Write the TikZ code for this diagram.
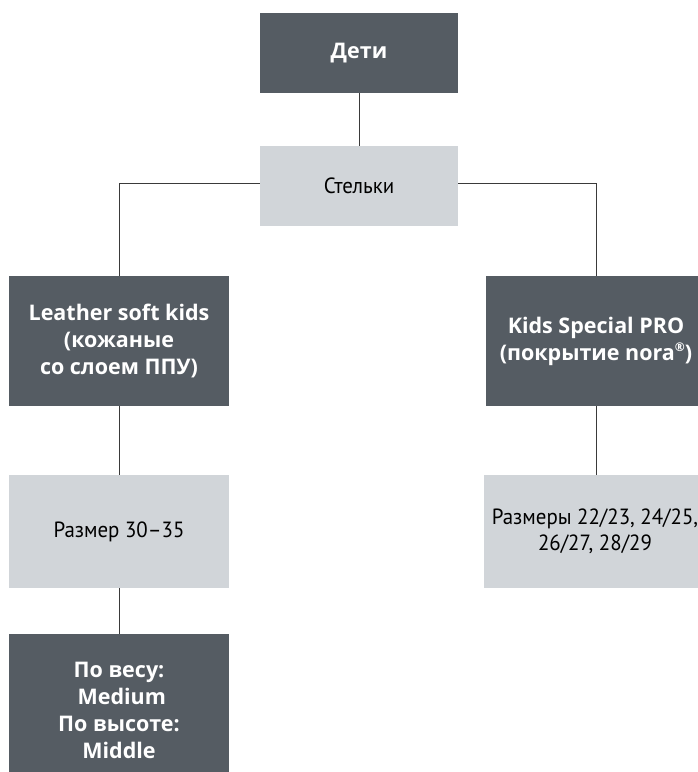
\documentclass[tikz,border=0pt]{standalone}
\usepackage{fontspec}
\newfontfamily\bfont{Open Sans}
\newfontfamily\rfont[FakeStretch=0.95]{PT Sans}
\definecolor{darkbox}{HTML}{555C63}
\definecolor{lightbox}{HTML}{D1D5D9}
\definecolor{linec}{HTML}{3A3A3A}
\tikzset{
  darknode/.style={rectangle, fill=darkbox, text=white, inner sep=0pt, align=center,
    font=\bfont\bfseries\fontsize{21.5}{27}\selectfont},
  lightnode/.style={rectangle, fill=lightbox, text=black, inner sep=0pt, align=center,
    font=\rfont\fontsize{22}{25.5}\selectfont},
  conn/.style={draw=linec, line width=1pt}
}
\begin{document}
\begin{tikzpicture}[x=1pt,y=-1pt]
\useasboundingbox (0,0) rectangle (698,772);
\clip (0,0) rectangle (698,772);
\node[darknode, minimum width=198pt, minimum height=80pt] (deti) at (359,53) {Дети};
\node[lightnode, minimum width=198pt, minimum height=80pt] (stelki) at (359,186) {Стельки};
\node[darknode, minimum width=220pt, minimum height=130pt] (leather) at (119,341)
  {Leather soft kids\\(кожаные\\со слоем ППУ)};
\node[darknode, minimum width=220pt, minimum height=130pt] (kids) at (596,341)
  {Kids Special PRO\\(покрытие nora\raisebox{0.75ex}{\fontsize{12}{12}\selectfont ®})};
\node[lightnode, minimum width=220pt, minimum height=113pt] (sizel) at (119,531.5)
  {Размер 30–35};
\node[lightnode, minimum width=222pt, minimum height=113pt] (sizer) at (595,531.5)
  {Размеры 22/23, 24/25,\\26/27, 28/29};
\node[darknode, minimum width=220pt, minimum height=152pt] (weight) at (119,710)
  {По весу:\\\ Medium\\По высоте:\\Middle};
\draw[conn] (deti) -- (stelki);
\draw[conn] ([yshift=3pt]stelki.west) -| (leather.north);
\draw[conn] ([yshift=3pt]stelki.east) -| (kids.north);
\draw[conn] (leather) -- (sizel);
\draw[conn] (kids.south) -- (kids.south |- sizer.north);
\draw[conn] (sizel) -- (weight);
\end{tikzpicture}
\end{document}
